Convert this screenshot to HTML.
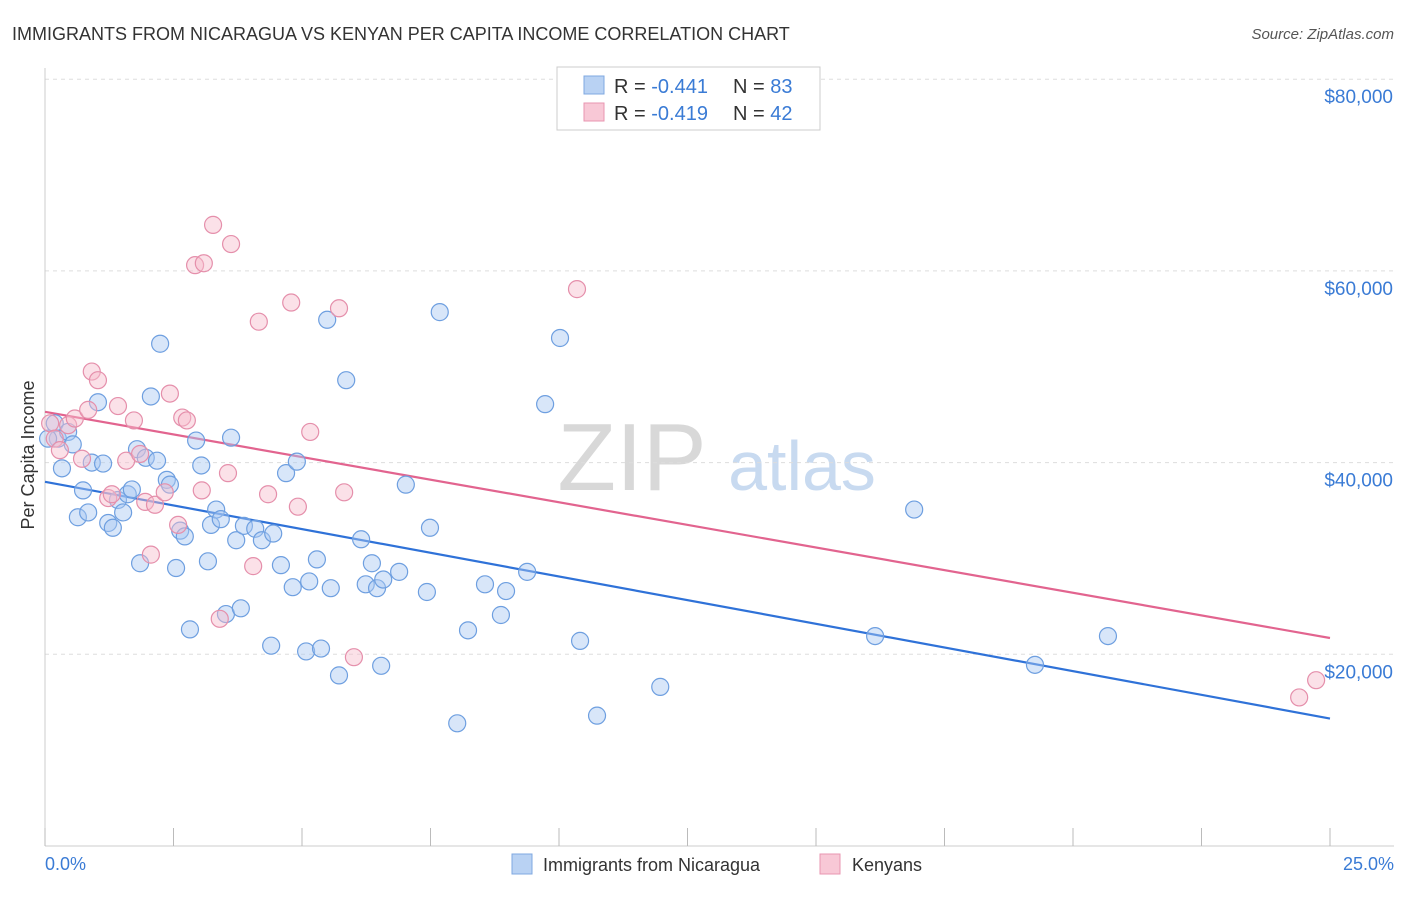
<!DOCTYPE html>
<html><head><meta charset="utf-8"><style>
body{margin:0;background:#fff;font-family:"Liberation Sans",sans-serif}
svg text{font-family:"Liberation Sans",sans-serif}
</style></head><body>
<svg id="chart" width="1406" height="892" viewBox="0 0 1406 892">
<text x="12" y="40" font-size="18" fill="#333">IMMIGRANTS FROM NICARAGUA VS KENYAN PER CAPITA INCOME CORRELATION CHART</text>
<text x="1394" y="39" font-size="15" fill="#555" text-anchor="end" font-style="italic">Source: ZipAtlas.com</text>
<text x="632" y="490" font-size="96" fill="#d8d8d8" font-family="Liberation Serif" text-anchor="middle">ZIP</text>
<text x="802" y="490" font-size="70" fill="#c8daf0" text-anchor="middle">atlas</text>
<g id="grid"></g><g id="axes"></g><g id="lines"></g><g id="points"></g>
<text transform="translate(34,455) rotate(-90)" font-size="18" fill="#333" text-anchor="middle">Per Capita Income</text>
<text x="45" y="870" font-size="18" fill="#3a7bd5">0.0%</text>
<text x="1394" y="870" font-size="18" fill="#3a7bd5" text-anchor="end">25.0%</text>
<g>
<rect x="557" y="67" width="263" height="63" fill="#fff" stroke="#ccc"/>
<rect x="584" y="76" width="20" height="18" fill="#b9d2f3" stroke="#7fa8e0"/>
<text x="614" y="93" font-size="20" fill="#333">R = <tspan fill="#3a7bd5">-0.441</tspan></text>
<text x="733" y="93" font-size="20" fill="#333">N = <tspan fill="#3a7bd5">83</tspan></text>
<rect x="584" y="103" width="20" height="18" fill="#f8c8d6" stroke="#e896b0"/>
<text x="614" y="120" font-size="20" fill="#333">R = <tspan fill="#3a7bd5">-0.419</tspan></text>
<text x="733" y="120" font-size="20" fill="#333">N = <tspan fill="#3a7bd5">42</tspan></text>
</g>
<g>
<rect x="512" y="854" width="20" height="20" fill="#b9d2f3" stroke="#7fa8e0"/>
<text x="543" y="871" font-size="18" fill="#333">Immigrants from Nicaragua</text>
<rect x="820" y="854" width="20" height="20" fill="#f8c8d6" stroke="#e896b0"/>
<text x="852" y="871" font-size="18" fill="#333">Kenyans</text>
</g>
</svg>
<script>
const yTicks=[20000,40000,60000,80000];
const yTickLabels=["$20,000","$40,000","$60,000","$80,000"];
const xTicks=[0,2.5,5,7.5,10,12.5,15,17.5,20,22.5,25];
const blueX=[0.19,0.25,0.33,0.45,0.54,0.64,0.74,0.84,0.91,1.03,1.13,1.23,1.32,1.42,1.52,1.61,1.69,1.79,1.85,1.96,2.06,2.18,2.24,2.37,2.43,2.55,2.63,2.72,2.82,2.94,3.04,3.17,3.23,3.33,3.42,3.52,3.62,3.72,3.81,3.87,4.09,4.22,4.40,4.44,4.59,4.69,4.82,4.90,5.08,5.14,5.29,5.37,5.49,5.56,5.72,5.86,6.15,6.24,6.36,6.46,6.54,6.58,6.89,7.02,7.43,7.49,7.68,8.02,8.23,8.56,8.87,8.97,9.38,9.73,10.02,10.41,10.74,11.97,16.15,16.91,19.26,20.68,0.06];
const blueY=[44100,42500,39400,43200,41900,34300,37100,34800,40000,46300,39900,33700,33200,36100,34800,36700,37200,41400,29500,40500,46900,40200,52400,38200,37700,29000,32900,32300,22600,42300,39700,29700,33500,35100,34100,24200,42600,31900,24800,33400,33100,31900,20900,32600,29300,38900,27000,40100,20300,27600,29900,20600,54900,26900,17800,48600,32000,27300,29500,26900,18800,27800,28600,37700,26500,33200,55700,12800,22500,27300,24100,26600,28600,46100,53000,21400,13600,16600,21900,35100,18900,21900,42500];
const pinkX=[0.10,0.19,0.29,0.45,0.58,0.72,0.84,0.91,1.03,1.23,1.30,1.42,1.58,1.73,1.85,1.95,2.06,2.14,2.33,2.43,2.59,2.67,2.76,2.92,3.09,3.05,3.27,3.40,3.56,3.62,4.05,4.16,4.34,4.79,4.92,5.16,5.72,5.82,6.01,10.35,24.40,24.73];
const pinkY=[44100,42500,41300,43900,44600,40400,45500,49500,48600,36300,36700,45900,40200,44400,40900,35900,30400,35600,36900,47200,33500,44700,44400,60600,60800,37100,64800,23700,38900,62800,29200,54700,36700,56700,35400,43200,56100,36900,19700,58100,15500,17300];
const blueTrend=[0,38000,25,13300];
const pinkTrend=[0,45300,25,21700];
const X0=45,X1=1330,Y0=846,PXPER20K=191.7;
const sx=v=>X0+(v/25)*(X1-X0);
const sy=v=>Y0-v/20000*PXPER20K;
const NS="http://www.w3.org/2000/svg";
function mk(tag,attrs,parent){const e=document.createElementNS(NS,tag);for(const k in attrs)e.setAttribute(k,attrs[k]);parent.appendChild(e);return e;}
const grid=document.getElementById('grid'),axes=document.getElementById('axes'),lines=document.getElementById('lines'),pts=document.getElementById('points');
yTicks.forEach((t,i)=>{
 const l=mk('line',{x1:45,x2:1394,y1:sy(t),y2:sy(t),stroke:'#ddd','stroke-dasharray':'4,4'},grid);
 
 
 const tx=mk('text',{x:1393,y:sy(t)+24,'font-size':19,fill:'#3a7bd5','text-anchor':'end'},grid);
 tx.textContent=yTickLabels[i];
 
 
});
const ya=mk('line',{x1:45,x2:45,y1:68,y2:846,stroke:'#ccc'},axes);


const xa=mk('line',{x1:45,x2:1394,y1:846,y2:846,stroke:'#ccc'},axes);


xTicks.forEach(t=>{
 const l=mk('line',{x1:sx(t),x2:sx(t),y1:828,y2:846,stroke:'#bbb'},axes);
 
 
});
function trend(a,color,name){
 const l=mk('line',{x1:sx(a[0]),y1:sy(a[1]),x2:sx(a[2]),y2:sy(a[3]),stroke:color,'stroke-width':2.2},lines);
 
 
}
function dots(xs,ys,fill,stroke,name){
 xs.forEach((x,i)=>{
  const c=mk('circle',{cx:sx(x),cy:sy(ys[i]),r:8.5,fill:fill,'fill-opacity':0.45,stroke:stroke,'stroke-width':1.2},pts);
  
  
 });
}
dots(blueX,blueY,'#a9c8f2','#6e9fe0','nicaragua-point');
dots(pinkX,pinkY,'#f7bccd','#e58fab','kenyan-point');
trend(blueTrend,'#2f72d8','nicaragua-trend-line');
trend(pinkTrend,'#e2648f','kenyan-trend-line');
</script>
</body></html>
